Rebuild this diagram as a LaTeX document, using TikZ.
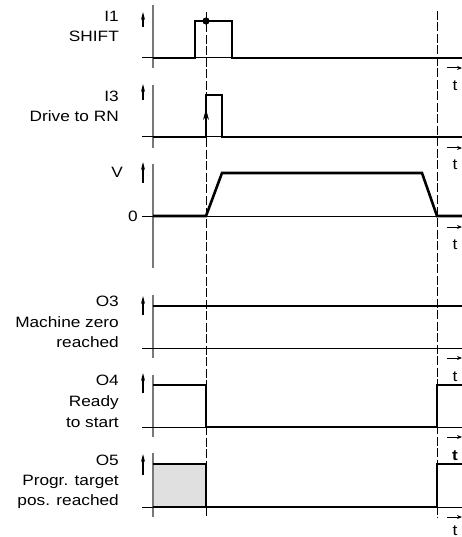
\documentclass[tikz,border=0pt]{standalone}
\usepackage{fontspec}
\setmainfont{Liberation Sans}[FakeStretch=1.15]
\usetikzlibrary{arrows.meta}
\definecolor{axisgray}{RGB}{120,120,120}
\definecolor{fillgray}{RGB}{224,224,224}
\begin{document}
\begin{tikzpicture}[x=1pt,y=-1pt,
  sig/.style={line width=2.6pt, line join=miter},
  baseline/.style={line width=1pt},
  axisline/.style={line width=2pt, draw=axisgray},
  guide/.style={line width=0.9pt, dash pattern=on 9pt off 2.5pt},
  uparr/.style={line width=1.2pt, -{Stealth[length=8pt,width=4pt]}},
  tarr/.style={line width=1pt, -{Stealth[length=5pt,width=4pt]}},
  lab/.style={anchor=base east, inner sep=0pt, font=\fontsize{15}{17}\selectfont},
  tlab/.style={anchor=base, inner sep=0pt, font=\fontsize{15}{17}\selectfont}]
\useasboundingbox (0,0) rectangle (462,537);

% guide lines
\draw[guide] (206,12) -- (206,517);
\draw[guide] (437,11) -- (437,518);

% ---------- I1 ----------
\draw[axisline] (153,5) -- (153,68);
\draw[uparr] (143,27) -- (143,12);
\draw[baseline] (142,58) -- (462,58);
\draw[sig] (153,58) -- (195,58) -- (195,21) -- (232,21) -- (232,58) -- (462,58);
\fill (206,21) circle (3.6);
\node[lab] (i1a) at (119,22) {I1};
\node[lab] (i1b) at (119,42) {SHIFT};
\draw[tarr] (447,68) -- (462,68);
\node[tlab] (t1) at (455,91) {t};

% ---------- I3 ----------
\draw[axisline] (153,85) -- (153,148);
\draw[uparr] (143,100) -- (143,84);
\draw[baseline] (142,137) -- (462,137);
\draw[sig] (153,137) -- (206,137) -- (206,95) -- (222,95) -- (222,137) -- (462,137);
\draw[line width=1.2pt, -{Stealth[length=11pt,width=6pt]}] (206,137) -- (206,109);
\node[lab] (i3a) at (119,102) {I3};
\node[lab] (i3b) at (119,122) {Drive to RN};
\draw[tarr] (447,148) -- (462,148);
\node[tlab] (t2) at (455,170) {t};

% ---------- V ----------
\draw[axisline] (153,164) -- (153,268);
\draw[uparr] (143,183) -- (143,162);
\draw[baseline] (142,216) -- (462,216);
\draw[sig] (153,216) -- (206,216) -- (222,173) -- (422,173) -- (437,216) -- (462,216);
\node[lab] (va) at (123,178) {V};
\node[lab] (vb) at (138,222) {0};
\draw[tarr] (447,227) -- (462,227);
\node[tlab] (t3) at (455,249) {t};

% ---------- O3 ----------
\draw[axisline] (153,295) -- (153,358);
\draw[uparr] (143,315) -- (143,296);
\draw[baseline] (142,348) -- (462,348);
\draw[sig] (153,306) -- (462,306);
\node[lab] (o3a) at (119,306) {O3};
\node[lab] (o3b) at (119,327) {Machine zero};
\node[lab] (o3c) at (119,347) {reached};
\draw[tarr] (447,358) -- (462,358);
\node[tlab] (t4) at (455,381) {t};

% ---------- O4 ----------
\draw[axisline] (153,375) -- (153,437);
\draw[uparr] (143,393) -- (143,373);
\draw[baseline] (142,427) -- (462,427);
\draw[sig] (153,385) -- (206,385) -- (206,427) -- (437,427) -- (437,385) -- (462,385);
\node[lab] (o4a) at (119,385) {O4};
\node[lab] (o4b) at (119,406) {Ready};
\node[lab] (o4c) at (119,427) {to start};
\draw[tarr] (447,437) -- (462,437);
\node[tlab, font=\fontsize{15}{17}\selectfont\bfseries] (t5) at (455,460) {t};

% ---------- O5 ----------
\fill[fillgray] (153,464) rectangle (206,507);
\draw[axisline] (153,453) -- (153,517);
\draw[uparr] (143,475) -- (143,454);
\draw[baseline] (142,507) -- (462,507);
\draw[sig] (153,464) -- (206,464) -- (206,507) -- (437,507) -- (437,464) -- (462,464);
\draw[sig] (153,507) -- (206,507);
\node[lab] (o5a) at (119,465) {O5};
\node[lab] (o5b) at (119,485) {Progr. target};
\node[lab] (o5c) at (119,505) {pos. reached};
\draw[tarr] (447,517) -- (462,517);
\node[tlab] (t6) at (455,535) {t};
\end{tikzpicture}
\end{document}
